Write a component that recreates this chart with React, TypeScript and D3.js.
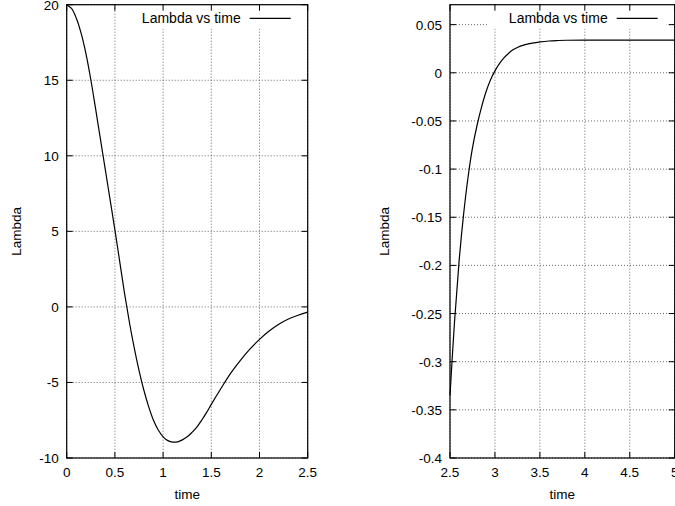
import React from "react";
import * as d3 from "d3";

const leftTime = [0, 0.05, 0.1, 0.15, 0.2, 0.25, 0.3, 0.35, 0.4, 0.45, 0.5, 0.55, 0.6, 0.65, 0.7, 0.75, 0.8, 0.85, 0.9, 0.95, 1.0, 1.05, 1.1, 1.15, 1.2, 1.25, 1.3, 1.35, 1.4, 1.45, 1.5, 1.6, 1.7, 1.8, 1.9, 2.0, 2.1, 2.2, 2.3, 2.4, 2.5];
const leftLambda = [20, 19.75, 19.1, 18.1, 16.75, 15.05, 13.1, 11.1, 9.1, 7.1, 5.1, 3.0, 0.9, -1.0, -2.7, -4.2, -5.5, -6.6, -7.5, -8.15, -8.6, -8.85, -8.95, -8.93, -8.8, -8.6, -8.3, -7.95, -7.5, -7.0, -6.45, -5.4, -4.4, -3.55, -2.8, -2.15, -1.6, -1.15, -0.8, -0.55, -0.35];

const rightTime = [2.5, 2.55, 2.6, 2.65, 2.7, 2.75, 2.8, 2.85, 2.9, 2.95, 3.0, 3.05, 3.1, 3.15, 3.2, 3.25, 3.3, 3.4, 3.5, 3.6, 3.7, 3.8, 4.0, 4.5, 5.0];
const rightLambda = [-0.335, -0.259, -0.197, -0.148, -0.109, -0.078, -0.055, -0.036, -0.02, -0.0075, 0.002, 0.0095, 0.0154, 0.0201, 0.0238, 0.0263, 0.0282, 0.0306, 0.032, 0.033, 0.0335, 0.0338, 0.034, 0.034, 0.034];

const leftXTicks = [0, 0.5, 1, 1.5, 2, 2.5];
const leftYTicks = [-10, -5, 0, 5, 10, 15, 20];
const rightXTicks = [2.5, 3, 3.5, 4, 4.5, 5];
const rightYTicks = [-0.4, -0.35, -0.3, -0.25, -0.2, -0.15, -0.1, -0.05, 0, 0.05];

const legendLabel = "Lambda vs time";
const xTitle = "time";
const yTitle = "Lambda";

const FONT = "'Liberation Sans', Arial, Helvetica, sans-serif";

type PanelProps = {
  xDomain: [number, number];
  yDomain: [number, number];
  xRange: [number, number];
  yRange: [number, number];
  xTicks: number[];
  yTicks: number[];
  xs: number[];
  ys: number[];
  yLabelX: number;
};

function Panel(p: PanelProps) {
  const x = d3.scaleLinear().domain(p.xDomain).range(p.xRange);
  const y = d3.scaleLinear().domain(p.yDomain).range(p.yRange);
  const [x0, x1] = p.xRange;
  const [y0, y1] = [p.yRange[1], p.yRange[0]];
  const pts = p.xs.map((t, i) => [t, p.ys[i]] as [number, number]);
  const line = d3
    .line<[number, number]>()
    .x((d) => x(d[0]))
    .y((d) => y(d[1]))
    .curve(d3.curveCatmullRom.alpha(0.5));
  const tickLen = 6;
  const legRight = x1 - 8;
  const lineEnd = x1 - 17;
  const lineStart = lineEnd - 41;
  const textEnd = lineStart - 9;
  const boxLeft = textEnd - 120;
  const grid = "#444";
  return (
    <g>
      {p.yTicks.map((v) => (
        <line key={"gy" + v} x1={x0} x2={x1} y1={y(v)} y2={y(v)} stroke={grid} strokeWidth={0.8} strokeDasharray="1,2" />
      ))}
      {p.xTicks.map((v) => (
        <line key={"gx" + v} x1={x(v)} x2={x(v)} y1={y0} y2={y1} stroke={grid} strokeWidth={0.8} strokeDasharray="1,2" />
      ))}
      <rect x={boxLeft} y={y0 + 1} width={legRight - boxLeft} height={23} fill="#fff" />
      <text x={textEnd} y={y0 + 18.6} textAnchor="end" fontFamily={FONT} fontSize={14} fill="#000">
        {legendLabel}
      </text>
      <line x1={lineStart} x2={lineEnd} y1={y0 + 13.6} y2={y0 + 13.6} stroke="#000" strokeWidth={1.2} />
      <path d={line(pts) || ""} fill="none" stroke="#000" strokeWidth={1.2} />
      {p.yTicks.map((v) => (
        <g key={"ty" + v}>
          <line x1={x0} x2={x0 + tickLen} y1={y(v)} y2={y(v)} stroke="#000" />
          <line x1={x1} x2={x1 - tickLen} y1={y(v)} y2={y(v)} stroke="#000" />
          <text x={x0 - 8} y={y(v) + 5} textAnchor="end" fontFamily={FONT} fontSize={13.5} fill="#000">
            {String(v)}
          </text>
        </g>
      ))}
      {p.xTicks.map((v) => (
        <g key={"tx" + v}>
          <line x1={x(v)} x2={x(v)} y1={y1} y2={y1 - tickLen} stroke="#000" />
          <line x1={x(v)} x2={x(v)} y1={y0} y2={y0 + tickLen} stroke="#000" />
          <text x={x(v)} y={y1 + 19} textAnchor="middle" fontFamily={FONT} fontSize={13.5} fill="#000">
            {String(v)}
          </text>
        </g>
      ))}
      <rect x={x0} y={y0} width={x1 - x0} height={y1 - y0} fill="none" stroke="#000" strokeWidth={1.2} />
      <text x={(x0 + x1) / 2} y={y1 + 41} textAnchor="middle" fontFamily={FONT} fontSize={13.5} fill="#000">
        {xTitle}
      </text>
      <text
        transform={`translate(${p.yLabelX},${(y0 + y1) / 2}) rotate(-90)`}
        textAnchor="middle"
        fontFamily={FONT}
        fontSize={13.5}
        fill="#000"
      >
        {yTitle}
      </text>
    </g>
  );
}

export default function App() {
  return (
    <svg
      width={675}
      height={506}
      style={{ position: "absolute", left: 0, top: 0, background: "#fff" }}
    >
      <rect width={675} height={506} fill="#fff" />
      <Panel
        xDomain={[0, 2.5]}
        yDomain={[-10, 20]}
        xRange={[66.7, 307.7]}
        yRange={[458, 4.7]}
        xTicks={leftXTicks}
        yTicks={leftYTicks}
        xs={leftTime}
        ys={leftLambda}
        yLabelX={21}
      />
      <Panel
        xDomain={[2.5, 5]}
        yDomain={[-0.4, 0.0707]}
        xRange={[450, 674.7]}
        yRange={[458, 4.7]}
        xTicks={rightXTicks}
        yTicks={rightYTicks}
        xs={rightTime}
        ys={rightLambda}
        yLabelX={389}
      />
    </svg>
  );
}
